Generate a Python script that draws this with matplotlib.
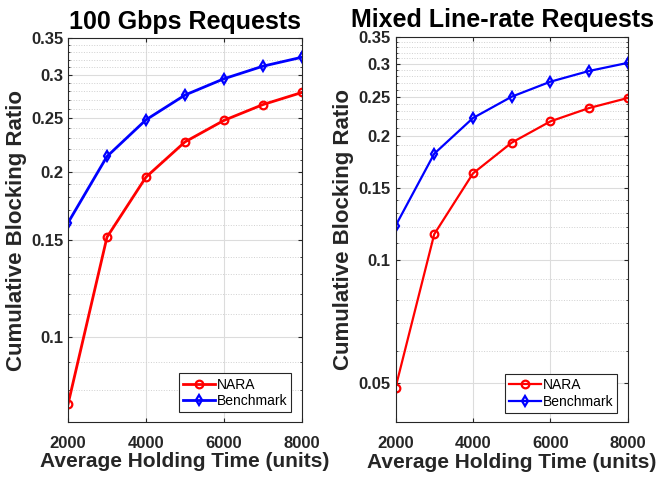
import numpy as np
import matplotlib
matplotlib.use("Agg")
import matplotlib.pyplot as plt
from matplotlib.ticker import FixedLocator, NullFormatter, FixedFormatter

plt.rcParams['font.family'] = ['Liberation Sans', 'DejaVu Sans']

holding = [2000, 3000, 4000, 5000, 6000, 7000, 8000]

# 100 Gbps requests
nara_100 = [0.0754, 0.152, 0.1955, 0.2266, 0.248, 0.265, 0.2788]
bench_100 = [0.1614, 0.2132, 0.2486, 0.2758, 0.2953, 0.3113, 0.3232]

# mixed line-rate requests
nara_mix = [0.0488, 0.1155, 0.1624, 0.193, 0.2175, 0.2344, 0.248]
bench_mix = [0.121, 0.1814, 0.2216, 0.2498, 0.2717, 0.2886, 0.302]

xticks = [2000, 4000, 6000, 8000]
yticks_100 = [0.1, 0.15, 0.2, 0.25, 0.3, 0.35]
yticks_mix = [0.05, 0.1, 0.15, 0.2, 0.25, 0.3, 0.35]

dark = '#262626'
fig = plt.figure(figsize=(6.57, 4.78), dpi=100)
ax1 = fig.add_axes([0.1035, 0.117, 0.356, 0.803])
ax2 = fig.add_axes([0.602, 0.1165, 0.3536, 0.807])


def draw(ax, nara, bench, yticks, ylim, title, lw, leg_anchor):
    ax.set_yscale('log')
    ax.plot(holding, nara, color='red', lw=lw, marker='o', ms=5.5,
            mfc='none', mew=1.6, label='NARA')
    ax.plot(holding, bench, color='blue', lw=lw, marker='d', ms=5.5,
            mfc='none', mew=1.6, label='Benchmark')
    ax.set_xlim(2000, 8000)
    ax.set_ylim(*ylim)
    ax.xaxis.set_major_locator(FixedLocator(xticks))
    ax.yaxis.set_major_locator(FixedLocator(yticks))
    ax.yaxis.set_major_formatter(FixedFormatter([('%g' % t) for t in yticks]))
    minors = [m / 100 for m in range(int(round(ylim[0] * 100)), 36)]
    minors = [m for m in minors if all(abs(m - t) > 1e-6 for t in yticks)]
    ax.yaxis.set_minor_locator(FixedLocator(minors))
    ax.yaxis.set_minor_formatter(NullFormatter())
    ax.grid(True, which='major', color='#dcdcdc', lw=0.8)
    ax.grid(True, which='minor', axis='y', color='#d0d0d0', lw=0.7, ls=':')
    ax.tick_params(which='both', direction='in', colors=dark, labelsize=12,
                   right=True, top=True, length=3)
    ax.tick_params(which='minor', length=1.5)
    ax.tick_params(axis='x', pad=10)
    for lab in ax.get_xticklabels() + ax.get_yticklabels():
        lab.set_fontweight('bold')
    for s in ax.spines.values():
        s.set_color(dark)
    ax.set_title(title, fontsize=18, fontweight='bold', pad=7)
    ax.set_xlabel('Average Holding Time (units)', fontsize=15,
                  fontweight='bold', color=dark, labelpad=1)
    ax.set_ylabel('Cumulative Blocking Ratio', fontsize=16,
                  fontweight='bold', color=dark, labelpad=3)
    leg = ax.legend(loc='lower right', bbox_to_anchor=leg_anchor, fontsize=10,
                    fancybox=False, framealpha=1, edgecolor=dark,
                    handlelength=2.3, handletextpad=0.1, borderpad=0.3,
                    labelspacing=0.2, borderaxespad=0)
    leg.get_frame().set_linewidth(0.8)


draw(ax1, nara_100, bench_100, yticks_100, (0.07, 0.35),
     '100 Gbps Requests', 2.0, (0.955, 0.025))
draw(ax2, nara_mix, bench_mix, yticks_mix, (0.0402, 0.35),
     'Mixed Line-rate Requests', 1.6, (0.955, 0.024))
ax2.title.set_x(0.46)

fig.savefig('out.png', dpi=100)
